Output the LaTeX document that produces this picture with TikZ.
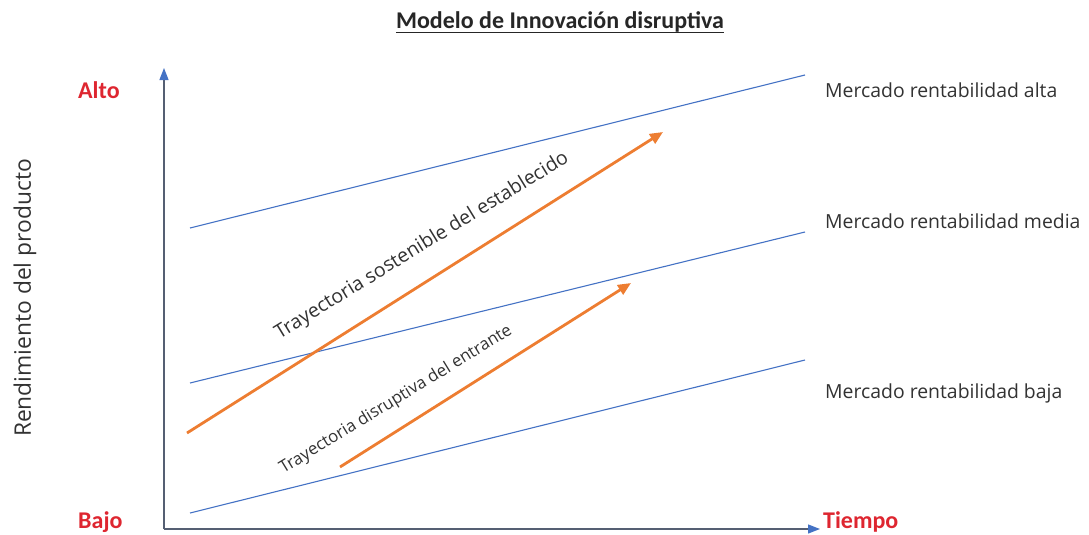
\documentclass[tikz,border=0pt]{standalone}
\usepackage{fontspec}
\setmainfont{Open Sans}
\newfontfamily\headfont{Carlito}
\usetikzlibrary{arrows.meta}
\definecolor{officeblue}{RGB}{68,114,196}
\definecolor{officeorange}{RGB}{237,125,49}
\definecolor{axisgray}{RGB}{85,95,115}
\definecolor{levelred}{RGB}{222,38,48}
\definecolor{textgray}{RGB}{50,50,50}

\begin{document}
\begin{tikzpicture}[x=1pt,y=-1pt,
  axis/.style={draw=axisgray,line width=1.3pt,-{Triangle[length=12pt,width=9pt,color=officeblue]}},
  market/.style={draw=officeblue,line width=1.1pt},
  trajectory/.style={draw=officeorange,line width=2.8pt,-{Triangle[length=13pt,width=11pt]}},
  levellabel/.style={font=\headfont\bfseries\fontsize{24}{28}\selectfont,text=levelred,inner sep=0pt,anchor=base west},
  marketlabel/.style={font=\fontsize{19.4}{23}\selectfont,text=textgray,inner sep=0pt,anchor=base west},
  traylabel/.style={text=textgray,inner sep=0pt}
]
\useasboundingbox (0,0) rectangle (1089,535);

% title
\node[font=\headfont\bfseries\fontsize{24}{28}\selectfont,text=black!85,inner sep=0pt,anchor=base]
  (title) at (560,29) {Modelo de Innovación disruptiva};
\draw[black!85,line width=1pt] ([yshift=-4pt]title.base west) -- ([yshift=-4pt]title.base east);

% axes
\coordinate (O) at (164,529);
\coordinate (ytop) at (164,68);
\coordinate (xend) at (820,529);
\draw[axis] (O) -- (ytop);
\draw[axis] (O) -- (xend);

% axis labels
\node[levellabel] (alto) at (78,99) {Alto};
\node[levellabel] (bajo) at (78,528) {Bajo};
\node[levellabel] (tiempo) at (823,528) {Tiempo};
\node[font=\fontsize{22.8}{26}\selectfont,text=textgray,inner sep=0pt,rotate=90]
  (ylabel) at (25,298) {Rendimiento del producto};

% market lines
\coordinate (h1) at (190,228);
\coordinate (h2) at (805,75);
\coordinate (m1) at (190,383);
\coordinate (m2) at (805,232);
\coordinate (l1) at (190,513);
\coordinate (l2) at (805,360);
\draw[market] (h1) -- (h2);
\draw[market] (m1) -- (m2);
\draw[market] (l1) -- (l2);

\node[marketlabel] (mhigh) at (825,97) {Mercado rentabilidad alta};
\node[marketlabel] (mmid) at (825,228) {Mercado rentabilidad media};
\node[marketlabel] (mlow) at (825,398) {Mercado rentabilidad baja};

% trajectories
\coordinate (s1) at (187,433);
\coordinate (s2) at (663,132);
\coordinate (d1) at (340,467);
\coordinate (d2) at (631,283);
\draw[trajectory] (s1) -- (s2);
\draw[trajectory] (d1) -- (d2);

\node[traylabel,font=\fontsize{19.5}{23}\selectfont,rotate=31.5]
  (tsus) at (422,246) {Trayectoria sostenible del establecido};
\node[traylabel,font=\fontsize{16.8}{20}\selectfont,rotate=31.5]
  (tdis) at (396,400) {Trayectoria disruptiva del entrante};
\end{tikzpicture}
\end{document}
